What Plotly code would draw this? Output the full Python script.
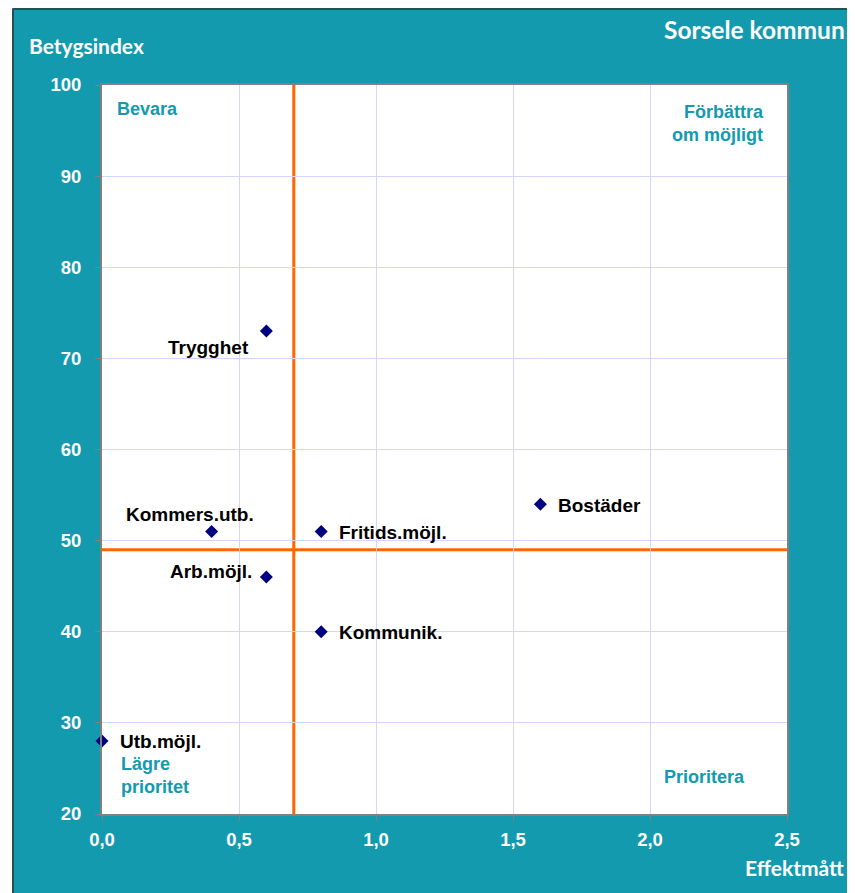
import plotly.graph_objects as go

# ---- data ----
categories = ["Trygghet", "Kommers.utb.", "Fritids.möjl.", "Arb.möjl.", "Kommunik.", "Bostäder", "Utb.möjl."]
effekt = [0.6, 0.4, 0.8, 0.6, 0.8, 1.6, 0.0]
betyg = [73, 51, 51, 46, 40, 54, 28]
x_ticks = [0.0, 0.5, 1.0, 1.5, 2.0, 2.5]
x_ticklabels = ["0,0", "0,5", "1,0", "1,5", "2,0", "2,5"]
y_ticks = [20, 30, 40, 50, 60, 70, 80, 90, 100]
x_split = 0.7
y_split = 49

TEAL = "#139AAF"
OFF = 8  # page body margin
W, H = 855 - OFF, 893 - OFF
L, R, T, B = 94, 68, 77, 79
pw, ph = W - L - R, H - T - B

def px(x):
    return (x - OFF - L) / pw

def py(y):
    return (H - B - (y - OFF)) / ph

fig = go.Figure()
fig.add_trace(go.Scatter(
    x=effekt, y=betyg, mode="markers",
    marker=dict(symbol="diamond", size=10, color="#000080"),
    hoverinfo="text", text=categories, showlegend=False, cliponaxis=False,
))

label_pos = {
    "Trygghet": dict(xanchor="right", xshift=-15, yshift=-16),
    "Kommers.utb.": dict(xanchor="center", xshift=-22, yshift=17),
    "Fritids.möjl.": dict(xanchor="left", xshift=16, yshift=-1),
    "Arb.möjl.": dict(xanchor="right", xshift=-12, yshift=6),
    "Kommunik.": dict(xanchor="left", xshift=16, yshift=-1),
    "Bostäder": dict(xanchor="left", xshift=16, yshift=-1),
    "Utb.möjl.": dict(xanchor="left", xshift=16, yshift=0),
}
lfont = dict(family="Liberation Sans, Arial", size=19, color="black", weight="bold")
annotations = []
for c, xv, yv in zip(categories, effekt, betyg):
    p = label_pos[c]
    annotations.append(dict(x=xv, y=yv, xref="x", yref="y", text=c, showarrow=False,
                            xanchor=p["xanchor"], yanchor="middle",
                            xshift=p["xshift"], yshift=p["yshift"], font=lfont))

qfont = dict(family="Liberation Sans, Arial", size=18, color=TEAL, weight="bold")
wfont = dict(family="Lato, Open Sans", size=21, color="white", weight="bold")
annotations += [
    dict(x=px(115), y=py(109), xref="paper", yref="paper", text="Bevara", showarrow=False,
         xanchor="left", yanchor="middle", font=qfont),
    dict(x=px(766), y=py(123), xref="paper", yref="paper", text="Förbättra<br>om möjligt", showarrow=False,
         xanchor="right", yanchor="middle", align="right", font=qfont),
    dict(x=px(119), y=py(775), xref="paper", yref="paper", text="Lägre<br>prioritet", showarrow=False,
         xanchor="left", yanchor="middle", align="left", font=qfont),
    dict(x=px(662), y=py(777), xref="paper", yref="paper", text="Prioritera", showarrow=False,
         xanchor="left", yanchor="middle", font=qfont),
    dict(x=px(847), y=py(30), xref="paper", yref="paper", text="Sorsele kommun", showarrow=False,
         xanchor="right", yanchor="middle",
         font=dict(family="Lato, Open Sans", size=24.5, color="white", weight="bold")),
    dict(x=px(27), y=py(46), xref="paper", yref="paper", text="Betygsindex", showarrow=False,
         xanchor="left", yanchor="middle", font=wfont),
    dict(x=px(846), y=py(868), xref="paper", yref="paper", text="Effektmått", showarrow=False,
         xanchor="right", yanchor="middle", font=wfont),
]

shapes = [
    dict(type="rect", xref="paper", yref="paper", x0=px(OFF), x1=px(12), y0=py(893), y1=py(OFF),
         fillcolor="white", line=dict(width=0), layer="above"),
    dict(type="line", xref="paper", yref="paper", x0=px(13), x1=px(13), y0=py(893), y1=py(9),
         line=dict(color="#2B4E56", width=2), layer="above"),
    dict(type="line", xref="paper", yref="paper", x0=px(13), x1=px(855), y0=py(9), y1=py(9),
         line=dict(color="#2B4E56", width=2), layer="above"),
    dict(type="line", xref="x", yref="y", x0=x_split, x1=x_split, y0=20, y1=100,
         line=dict(color="#FF6600", width=3), layer="below"),
    dict(type="line", xref="x", yref="y", x0=0, x1=2.5, y0=y_split, y1=y_split,
         line=dict(color="#FF6600", width=3), layer="below"),
]

tickfont = dict(family="Liberation Sans Narrow, Arial Narrow, Liberation Sans", size=18.5, color="white", weight="bold")
axis_common = dict(showgrid=True, gridcolor="#D4D4FF", gridwidth=1,
                   showline=True, linecolor="#808080", linewidth=2, mirror=True,
                   ticks="outside", ticklen=5, tickcolor="#808080",
                   tickfont=tickfont, zeroline=False, fixedrange=True)
fig.update_layout(
    width=W, height=H,
    margin=dict(l=L, r=R, t=T, b=B),
    paper_bgcolor=TEAL, plot_bgcolor="white",
    annotations=annotations, shapes=shapes,
    xaxis=dict(range=[0, 2.5], tickvals=x_ticks, ticktext=x_ticklabels, ticklabelstandoff=3, **axis_common),
    yaxis=dict(range=[20, 100], tickvals=y_ticks, ticklabelstandoff=10, **axis_common),
)

fig.write_html("out.html")
